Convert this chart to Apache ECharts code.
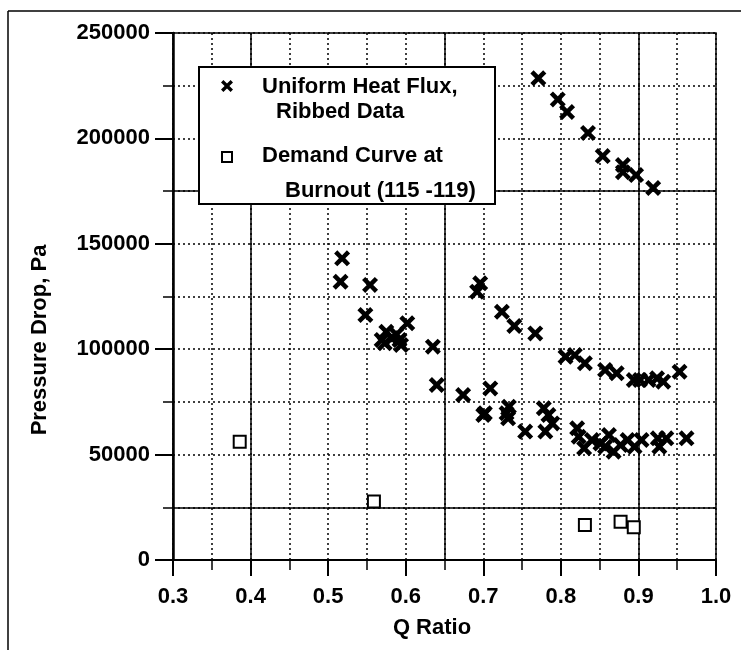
<!DOCTYPE html>
<html>
<head>
<meta charset="utf-8">
<script src="https://cdn.jsdelivr.net/npm/echarts@6/dist/echarts.min.js"></script>
<style>
  html, body { margin: 0; padding: 0; background: #fff; }
  #chart { width: 741px; height: 657px; }
</style>
</head>
<body>
<div id="chart"></div>
<script>
// Uniform heat flux, ribbed data: [Q ratio, pressure drop Pa]
var ribbedData = [
    [0.771, 228500], [0.796, 218500], [0.808, 212500], [0.835, 202600], [0.854, 191600],
    [0.880, 187400], [0.880, 184000], [0.897, 182600], [0.919, 176500],
    [0.518, 143100], [0.516, 132000], [0.554, 130500], [0.548, 116200], [0.602, 112300],
    [0.575, 108300], [0.582, 105200], [0.569, 104400], [0.592, 104400], [0.594, 102000],
    [0.573, 102800], [0.588, 107000],
    [0.635, 101200], [0.640, 83000], [0.674, 78300],
    [0.696, 131300], [0.692, 127300], [0.724, 117800], [0.740, 111000], [0.767, 107500],
    [0.709, 81400], [0.702, 69600], [0.700, 68800], [0.730, 69600], [0.732, 67200],
    [0.733, 72700], [0.754, 60900],
    [0.778, 72000], [0.784, 68800], [0.789, 64800], [0.780, 60900],
    [0.806, 96400], [0.818, 97200], [0.831, 93300],
    [0.857, 90100], [0.872, 88600], [0.894, 85400], [0.902, 85400], [0.913, 85400],
    [0.924, 86200], [0.932, 84600], [0.953, 89300],
    [0.821, 62500], [0.823, 58500], [0.830, 53000], [0.840, 56900], [0.851, 55300],
    [0.862, 59300], [0.857, 53700], [0.868, 51400], [0.877, 54500], [0.886, 56900],
    [0.895, 53700], [0.904, 56900], [0.925, 57700], [0.927, 53700], [0.936, 57700],
    [0.962, 57700]
];
// Demand curve at burnout
var demandData = [
    [0.386, 56100], [0.559, 27700], [0.831, 16600], [0.877, 18200], [0.894, 15500]
];
// grid lines that are drawn solid in the original
var solidXLines = [0.4, 0.65, 0.9];
var solidYLines = [25000, 175000];

var legendLines = ['Uniform Heat Flux,', 'Ribbed Data', 'Demand Curve at', 'Burnout (115 -119)'];

// cross outline on a 10x10 box, used for the marks and the legend
var crossPts = [[0, 2], [2, 0], [5, 3], [8, 0], [10, 2], [7, 5], [10, 8], [8, 10], [5, 7], [2, 10], [0, 8], [3, 5]];
var xPath = 'path://M' + crossPts.map(function (p) { return p[0] + ',' + p[1]; }).join('L') + 'Z';
var font = 'Liberation Sans';
var dotted = { type: [2, 3], width: 1.5, color: '#000' };

var chart = echarts.init(document.getElementById('chart'));

var markData = [];
solidXLines.forEach(function (v) { markData.push({ xAxis: v }); });
solidYLines.forEach(function (v) { markData.push({ yAxis: v }); });

var legendCross = crossPts.map(function (p) { return [221 + p[0] * 1.2, 80 + p[1] * 1.2]; });

function legendText(x, y, s) {
    return {
        type: 'text', x: x, y: y, z: 101,
        style: { text: s, fill: '#000', fontFamily: font, fontWeight: 'bold', fontSize: 22, textVerticalAlign: 'middle' }
    };
}

var option = {
    animation: false,
    backgroundColor: '#fff',
    grid: {
        left: 173, top: 33, right: 25, bottom: 97,
        show: true, borderColor: '#000', borderWidth: 1.5
    },
    xAxis: {
        type: 'value',
        min: 0.3,
        max: 1.0,
        interval: 0.1,
        axisLine: { show: true, onZero: false, lineStyle: { color: '#000', width: 2 } },
        axisTick: { show: true, length: 16, lineStyle: { color: '#000', width: 2 } },
        minorTick: { show: true, splitNumber: 2, length: 10, lineStyle: { color: '#000', width: 1.5 } },
        splitLine: { show: true, lineStyle: dotted },
        minorSplitLine: { show: true, lineStyle: dotted },
        axisLabel: {
            margin: 26,
            color: '#000',
            fontFamily: font,
            fontWeight: 'bold',
            fontSize: 22,
            formatter: function (v) { return v.toFixed(1); }
        }
    },
    yAxis: {
        type: 'value',
        min: 0,
        max: 250000,
        interval: 50000,
        axisLine: { show: true, onZero: false, lineStyle: { color: '#000', width: 2.5 } },
        axisTick: { show: true, length: 18, lineStyle: { color: '#000', width: 2 } },
        minorTick: { show: true, splitNumber: 2, length: 10, lineStyle: { color: '#000', width: 1.5 } },
        splitLine: { show: true, lineStyle: dotted },
        minorSplitLine: { show: true, lineStyle: dotted },
        axisLabel: {
            margin: 23,
            color: '#000',
            fontFamily: font,
            fontWeight: 'bold',
            fontSize: 22,
            formatter: function (v) { return String(v); }
        }
    },
    graphic: [
        { type: 'line', shape: { x1: 8, y1: 11, x2: 741, y2: 11 }, style: { stroke: '#000', lineWidth: 1.5 } },
        { type: 'line', shape: { x1: 8, y1: 11, x2: 8, y2: 650 }, style: { stroke: '#000', lineWidth: 1.5 } },
        {
            type: 'text', x: 40, y: 340, rotation: Math.PI / 2,
            style: { text: 'Pressure Drop, Pa', fill: '#000', fontFamily: font, fontWeight: 'bold', fontSize: 22, textAlign: 'center', textVerticalAlign: 'middle' }
        },
        {
            type: 'text', x: 432, y: 628,
            style: { text: 'Q Ratio', fill: '#000', fontFamily: font, fontWeight: 'bold', fontSize: 22, textAlign: 'center', textVerticalAlign: 'middle' }
        },
        { type: 'rect', z: 100, shape: { x: 199, y: 67, width: 296, height: 137 }, style: { fill: '#fff', stroke: '#000', lineWidth: 2 } },
        { type: 'polygon', z: 101, shape: { points: legendCross }, style: { fill: '#000' } },
        { type: 'rect', z: 101, shape: { x: 222, y: 152, width: 10, height: 10 }, style: { fill: '#fff', stroke: '#000', lineWidth: 2 } },
        legendText(262, 87, legendLines[0]),
        legendText(276, 112, legendLines[1]),
        legendText(262, 156, legendLines[2]),
        legendText(285, 191, legendLines[3])
    ],
    series: [
        {
            name: 'solid grid',
            type: 'scatter',
            data: [],
            silent: true,
            markLine: {
                silent: true,
                symbol: ['none', 'none'],
                label: { show: false },
                lineStyle: { type: 'solid', color: '#000', width: 1.5 },
                data: markData
            }
        },
        {
            name: 'Uniform Heat Flux, Ribbed Data',
            type: 'scatter',
            symbol: xPath,
            symbolSize: 16,
            itemStyle: { color: '#000', opacity: 1 },
            data: ribbedData,
            z: 5
        },
        {
            name: 'Demand Curve at Burnout (115 -119)',
            type: 'scatter',
            symbol: 'rect',
            symbolSize: 12,
            itemStyle: { color: '#fff', borderColor: '#000', borderWidth: 2, opacity: 1 },
            data: demandData,
            z: 5
        }
    ]
};

chart.setOption(option);
</script>
</body>
</html>
